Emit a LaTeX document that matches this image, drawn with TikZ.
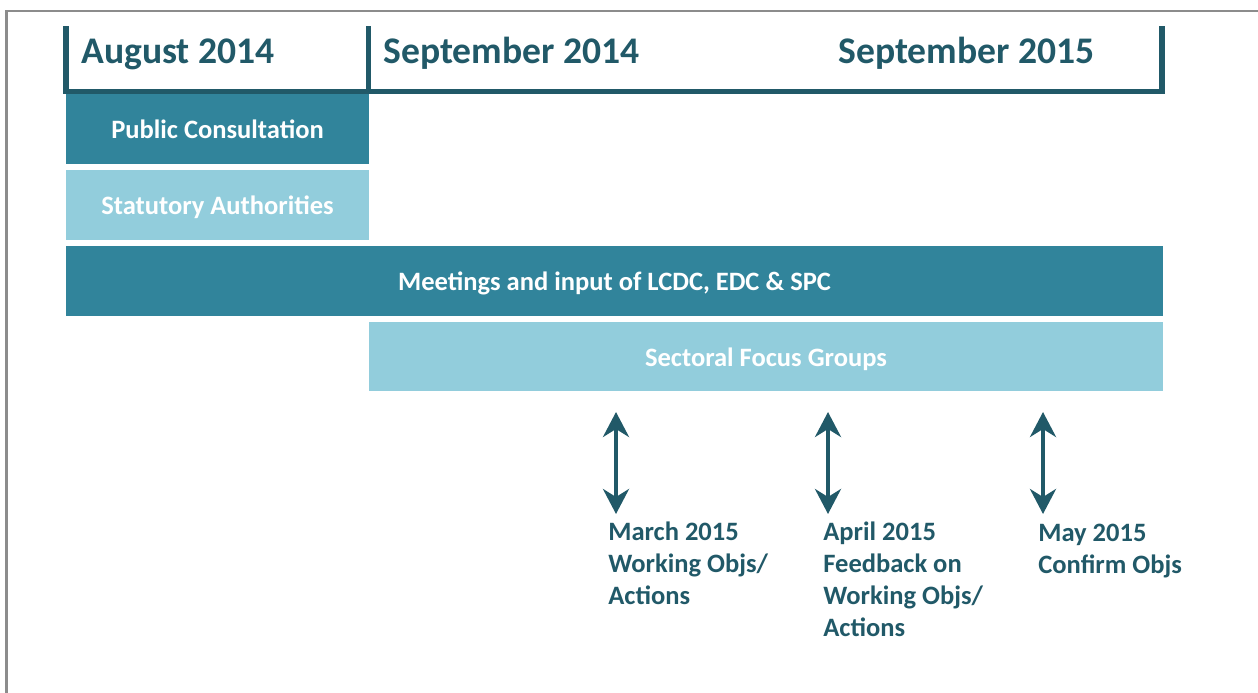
\documentclass[tikz,border=0pt]{standalone}
\usepackage{fontspec}
\setmainfont{Carlito}
\usetikzlibrary{arrows.meta}
\begin{document}
\begin{tikzpicture}[x=0.02cm,y=-0.02cm,
   bar/.style={inner sep=0pt,minimum height=1.4cm,text height=0.44cm,text depth=0.06cm,text=white,font=\bfseries\fontsize{15.1}{18}\selectfont},
   darkbar/.style={bar,fill=barcolor},
   lightbar/.style={bar,fill=lightcolor},
   monthhead/.style={anchor=base west,inner sep=0pt,text=linecolor,font=\bfseries\fontsize{21.4}{25}\selectfont},
   milestone/.style={anchor=north west,inner sep=0pt,align=left,text=linecolor,font=\bfseries\fontsize{15.1}{18.1}\selectfont},
   span/.style={linecolor,line width=0.08cm,{Stealth[length=0.5cm,width=0.52cm,inset=0.16cm]}-{Stealth[length=0.5cm,width=0.52cm,inset=0.16cm]}}]
   \definecolor{barcolor}{HTML}{31849B}
   \definecolor{lightcolor}{HTML}{92CDDC}
   \definecolor{linecolor}{HTML}{215968}
   \definecolor{framecolor}{HTML}{8C8C8C}
   \useasboundingbox (0,0) rectangle (1258,693);
   \draw [framecolor,line width=0.045cm] (6.5,693) -- (6.5,11) -- (1258,11);
   \draw [linecolor,line width=0.11cm] (66,26) -- (66,91.5) -- (1162,91.5) -- (1162,26);
   \draw [linecolor,line width=0.11cm] (368.5,26) -- (368.5,91.5);
   \node [monthhead] (aug14) at (81,63) {August 2014};
   \node [monthhead] (sep14) at (383,63) {September 2014};
   \node [monthhead] (sep15) at (838,63) {September 2015};
   \node [darkbar,minimum width=6.06cm] (public) at (217.5,129) {Public Consultation};
   \node [lightbar,minimum width=6.06cm] (statutory) at (217.5,205) {Statutory Authorities};
   \node [darkbar,minimum width=21.94cm] (meetings) at (614.5,281) {Meetings and input of LCDC, EDC \& SPC};
   \node [lightbar,minimum width=15.88cm,minimum height=1.38cm] (sectoral) at (766,356.5) {Sectoral Focus Groups};
   \coordinate (mar top) at (616,412);
   \coordinate (mar bot) at (616,514);
   \coordinate (apr top) at (828,412);
   \coordinate (apr bot) at (828,514);
   \coordinate (may top) at (1043,412);
   \coordinate (may bot) at (1043,514);
   \draw [span] (mar top) -- (mar bot);
   \draw [span] (apr top) -- (apr bot);
   \draw [span] (may top) -- (may bot);
   \node [milestone] (march) at (608,522) {March 2015\\Working Objs/\\Actions};
   \node [milestone] (april) at (823,522) {April 2015\\Feedback on\\Working Objs/\\Actions};
   \node [milestone] (may) at (1038,524) {May 2015\\Confirm Objs};
\end{tikzpicture}
\end{document}
